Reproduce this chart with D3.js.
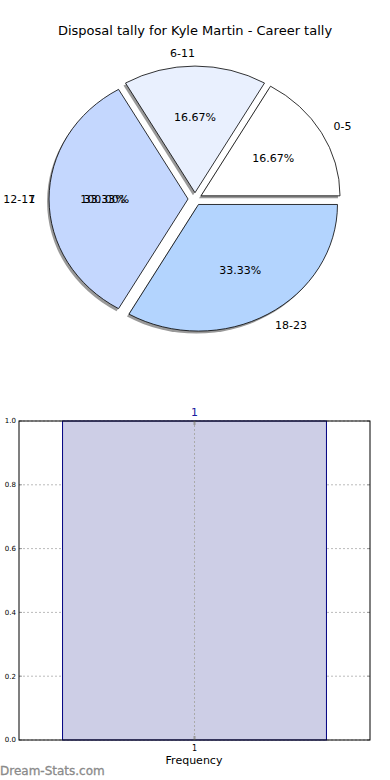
<!DOCTYPE html>
<html>
<head>
  <meta charset="utf-8">
  <title>Disposal tally</title>
  <script src="https://d3js.org/d3.v7.min.js"></script>
  <style>
    body { margin: 0; background: #fff; }
    text { font-family: "DejaVu Sans", sans-serif; }
  </style>
</head>
<body>
  <div id="chart"></div>

<script>
  // pie data
  const pieLabels = ["0-5", "6-11", "12-17", "18-23"];
  const pieValues = [1, 1, 2, 2];
  const pieColors = ["#ffffff", "#e9f0fe", "#c4d7fe", "#b3d4fe"];
  // labels drawn on top of each other at the 12-17 wedge in the original
  const overlapLabel = "1";
  const overlapPct = "100.00%";

  // histogram data
  const barCats = ["1"];
  const barValues = [1];
  const yTicks = [0, 0.2, 0.4, 0.6, 0.8, 1.0];

  const title = "Disposal tally for Kyle Martin - Career tally";

  const svg = d3.select("#chart")
    .append("svg")
      .attr("width", 390)
      .attr("height", 780);

  svg.append("text")
    .attr("x", 195)
    .attr("y", 35)
    .attr("text-anchor", "middle")
    .attr("font-size", 13)
    .text(title);

  // pie is squashed a bit vertically, like the original
  const cx = 195, cy = 199, rx = 139, ry = 126.6;
  const explode = 0.05;

  const pie = d3.pie()
    .sort(null)
    .startAngle(Math.PI / 2)
    .endAngle(Math.PI / 2 - 2 * Math.PI);
  const arcs = pie(pieValues);
  const arc = d3.arc().innerRadius(0).outerRadius(1);

  const mid = d => (d.startAngle + d.endAngle) / 2;

  // shadow
  const shadow = svg.append("g")
    .attr("transform", `translate(${cx - 2},${cy + 2.5}) scale(${rx},${ry})`);
  shadow.selectAll("path")
    .data(arcs)
    .enter()
    .append("path")
    .attr("transform", d => `translate(${explode * Math.sin(mid(d))},${-explode * Math.cos(mid(d))})`)
    .attr("d", arc)
    .attr("fill", "#555")
    .attr("opacity", 0.6);

  const g = svg.append("g")
    .attr("transform", `translate(${cx},${cy}) scale(${rx},${ry})`);
  g.selectAll("path")
    .data(arcs)
    .enter()
    .append("path")
    .attr("transform", d => `translate(${explode * Math.sin(mid(d))},${-explode * Math.cos(mid(d))})`)
    .attr("d", arc)
    .attr("fill", (d, i) => pieColors[i])
    .attr("stroke", "#000")
    .attr("stroke-width", 0.8)
    .attr("vector-effect", "non-scaling-stroke");

  const total = d3.sum(pieValues);
  const labelPos = (d, k) => [cx + rx * (explode + k) * Math.sin(mid(d)), cy - ry * (explode + k) * Math.cos(mid(d))];

  // category labels
  svg.selectAll(".plabel")
    .data(arcs)
    .enter()
    .append("text")
    .attr("class", "plabel")
    .attr("x", d => labelPos(d, 1.1)[0])
    .attr("y", d => labelPos(d, 1.1)[1])
    .attr("dy", "0.35em")
    .attr("text-anchor", d => Math.sin(mid(d)) > 1e-9 ? "start" : "end")
    .attr("font-size", 11)
    .text((d, i) => pieLabels[i]);

  // percentages
  svg.selectAll(".ppct")
    .data(arcs)
    .enter()
    .append("text")
    .attr("class", "ppct")
    .attr("x", d => labelPos(d, 0.6)[0])
    .attr("y", d => labelPos(d, 0.6)[1])
    .attr("dy", "0.35em")
    .attr("text-anchor", "middle")
    .attr("font-size", 11)
    .text(d => (d.value / total * 100).toFixed(2) + "%");

  // overlapping texts on the 12-17 wedge
  const big = arcs[2];
  svg.append("text")
    .attr("x", labelPos(big, 1.1)[0])
    .attr("y", labelPos(big, 1.1)[1])
    .attr("dy", "0.35em")
    .attr("text-anchor", "end")
    .attr("font-size", 11)
    .text(overlapLabel);
  svg.append("text")
    .attr("x", labelPos(big, 0.6)[0])
    .attr("y", labelPos(big, 0.6)[1])
    .attr("dy", "0.35em")
    .attr("text-anchor", "middle")
    .attr("font-size", 11)
    .text(overlapPct);

  // ---- histogram ----
  const bx0 = 19, bx1 = 370, by0 = 421, by1 = 740;

  const x = d3.scaleBand()
    .domain(barCats)
    .range([bx0, bx1])
    .paddingInner(0)
    .paddingOuter(0.165);

  const y = d3.scaleLinear()
    .domain([0, 1])
    .range([by1, by0]);

  // grid
  svg.append("g")
    .selectAll("line")
    .data(yTicks)
    .enter()
    .append("line")
    .attr("x1", bx0)
    .attr("x2", bx1)
    .attr("y1", d => y(d))
    .attr("y2", d => y(d))
    .attr("stroke", "#bbb")
    .attr("stroke-dasharray", "2,2");

  svg.selectAll(".bar")
    .data(barValues)
    .enter()
    .append("rect")
    .attr("class", "bar")
    .attr("x", (d, i) => x(barCats[i]))
    .attr("y", d => y(d))
    .attr("width", x.bandwidth())
    .attr("height", d => y(0) - y(d))
    .attr("fill", "#cdcee6")
    .attr("stroke", "#000080")
    .attr("stroke-width", 1);

  // vertical grid over the bar
  svg.append("g")
    .selectAll("line")
    .data(barCats)
    .enter()
    .append("line")
    .attr("x1", d => x(d) + x.bandwidth() / 2)
    .attr("x2", d => x(d) + x.bandwidth() / 2)
    .attr("y1", by0)
    .attr("y2", by1)
    .attr("stroke", "#aaa")
    .attr("stroke-dasharray", "2,2");

  // ticks (inward, both sides)
  const ticks = svg.append("g").attr("stroke", "#999");
  yTicks.forEach(t => {
    ticks.append("line").attr("x1", bx0).attr("x2", bx0 + 3).attr("y1", y(t)).attr("y2", y(t));
    ticks.append("line").attr("x1", bx1 - 3).attr("x2", bx1).attr("y1", y(t)).attr("y2", y(t));
  });
  barCats.forEach(c => {
    const cxb = x(c) + x.bandwidth() / 2;
    ticks.append("line").attr("x1", cxb).attr("x2", cxb).attr("y1", by0).attr("y2", by0 + 4).attr("stroke-width", 2);
    ticks.append("line").attr("x1", cxb).attr("x2", cxb).attr("y1", by1 - 4).attr("y2", by1).attr("stroke-width", 2);
  });

  // frame
  svg.append("rect")
    .attr("x", bx0)
    .attr("y", by0)
    .attr("width", bx1 - bx0)
    .attr("height", by1 - by0)
    .attr("fill", "none")
    .attr("stroke", "#000")
    .attr("stroke-width", 1);

  // y tick labels
  svg.append("g")
    .selectAll("text")
    .data(yTicks)
    .enter()
    .append("text")
    .attr("x", bx0 - 3)
    .attr("y", d => y(d))
    .attr("dy", "0.35em")
    .attr("text-anchor", "end")
    .attr("font-size", 7)
    .text(d => d.toFixed(1));

  // x tick labels
  svg.append("g")
    .selectAll("text")
    .data(barCats)
    .enter()
    .append("text")
    .attr("x", d => x(d) + x.bandwidth() / 2)
    .attr("y", by1 + 11)
    .attr("text-anchor", "middle")
    .attr("font-size", 8)
    .text(d => d);

  // value labels above bars
  svg.append("g")
    .selectAll("text")
    .data(barValues)
    .enter()
    .append("text")
    .attr("x", (d, i) => x(barCats[i]) + x.bandwidth() / 2)
    .attr("y", d => y(d) - 5)
    .attr("text-anchor", "middle")
    .attr("font-size", 11)
    .attr("fill", "#1a1aa0")
    .text(d => d);

  svg.append("text")
    .attr("x", 194)
    .attr("y", 764)
    .attr("text-anchor", "middle")
    .attr("font-size", 11)
    .text("Frequency");

  svg.append("text")
    .attr("x", 0)
    .attr("y", 775)
    .attr("font-size", 12)
    .attr("fill", "#8a8a8a")
    .attr("stroke", "#8a8a8a")
    .attr("stroke-width", 0.3)
    .text("Dream-Stats.com");
</script>
</body>
</html>
